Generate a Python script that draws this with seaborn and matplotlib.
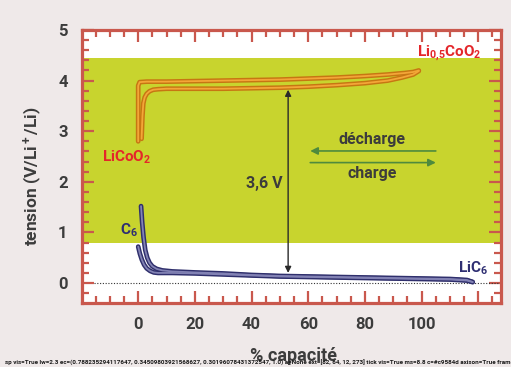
import matplotlib
matplotlib.use("Agg")
import matplotlib.pyplot as plt
import seaborn as sns
import numpy as np
from matplotlib.patches import Rectangle

# ---------------- data ----------------
# LiCoO2 electrode (upper curve = charge, lower = discharge)
orange_up_x = [0, 0, 0.5, 3, 10, 20, 30, 40, 50, 60, 70, 80, 88, 94, 97, 99]
orange_up_y = [2.8, 3.9, 3.97, 3.98, 3.98, 3.99, 4.0, 4.01, 4.02, 4.04, 4.06, 4.09, 4.12, 4.15, 4.17, 4.2]
orange_lo_x = [1.2, 1.5, 1.8, 2.3, 3, 4, 5.3, 7, 10, 20, 30, 40, 50, 60, 70, 80, 88, 93, 97, 99]
orange_lo_y = [2.85, 3.3, 3.55, 3.67, 3.74, 3.79, 3.82, 3.83, 3.84, 3.84, 3.84, 3.85, 3.86, 3.88, 3.91, 3.95, 4.0, 4.06, 4.12, 4.19]

# graphite electrode
blue_up_x = [1.0, 1.4, 1.9, 2.5, 3.2, 4, 5, 6.5, 8.5, 12, 20, 30, 40, 50, 60, 70, 80, 90, 100, 110, 116, 118]
blue_up_y = [1.52, 1.2, 0.9, 0.65, 0.5, 0.4, 0.33, 0.28, 0.25, 0.23, 0.21, 0.19, 0.16, 0.14, 0.13, 0.12, 0.11, 0.1, 0.09, 0.08, 0.06, 0.02]
blue_lo_x = [0, 0.6, 1.3, 2.1, 3, 4.2, 5.5, 7, 9, 12, 20, 30, 40, 50, 60, 70, 80, 90, 100, 110, 116, 118]
blue_lo_y = [0.72, 0.58, 0.46, 0.36, 0.29, 0.24, 0.21, 0.2, 0.2, 0.2, 0.19, 0.17, 0.15, 0.13, 0.12, 0.11, 0.1, 0.09, 0.08, 0.07, 0.05, 0.02]

x_ticks = [0, 20, 40, 60, 80, 100, 120]
x_labels = ["0", "20", "40", "60", "80", "100", ""]
y_ticks = [0, 1, 2, 3, 4, 5]
y_labels = ["0", "1", "2", "3", "4", "5"]

band_low, band_high = 0.8, 4.45
voltage_gap = [0.2, 3.82]   # ends of 3,6 V arrow
gap_x = 52.9

# ---------------- style ----------------
sns.set_theme(style="white")
plt.rcParams["font.family"] = ["Roboto", "DejaVu Sans"]
plt.rcParams["font.weight"] = "bold"
plt.rcParams["mathtext.fontset"] = "custom"
plt.rcParams["mathtext.rm"] = "Roboto:bold"
plt.rcParams["mathtext.it"] = "Roboto:bold"
plt.rcParams["mathtext.bf"] = "Roboto:bold"
plt.rcParams["mathtext.sf"] = "Roboto:bold"

FRAME = "#c9584d"
GREEN = "#c8d42e"
TXT = "#3c3c3c"
RED = "#e4262a"
NAVY = "#2e2e72"
OR_DARK, OR_LIGHT = "#c77612", "#f3a638"
NV_DARK, NV_LIGHT = "#2f2f6c", "#8282b4"
ARROW_GREEN = "#4f8a3d"

W, H = 511, 367
fig = plt.figure(figsize=(W / 100, H / 100), dpi=100, facecolor="#efe9e9")
ax = fig.add_axes([81.5 / W, 1 - 303.3 / H, (501 - 81.5) / W, (303.3 - 30) / H])
ax.set_facecolor("white")

ax.axhspan(band_low, band_high, color=GREEN, zorder=0, lw=0)
ax.axhline(0, xmin=0.03, xmax=1, color="#333333", lw=0.8, ls=(0, (1, 1.5)), zorder=1)

def dbl(x, y, dark, light):
    sns.lineplot(x=x, y=y, sort=False, estimator=None, color=dark, lw=3.4, ax=ax, zorder=3)
    sns.lineplot(x=x, y=y, sort=False, estimator=None, color=light, lw=1.3, ax=ax, zorder=4)

dbl(orange_up_x, orange_up_y, OR_DARK, OR_LIGHT)
dbl(orange_lo_x, orange_lo_y, OR_DARK, OR_LIGHT)
dbl(blue_lo_x, blue_lo_y, NV_DARK, NV_LIGHT)
dbl(blue_up_x, blue_up_y, NV_DARK, NV_LIGHT)

ax.annotate("", xy=(gap_x, voltage_gap[1]), xytext=(gap_x, voltage_gap[0]),
            arrowprops=dict(arrowstyle="<|-|>", color="#2a2a2a", lw=1.0,
                            mutation_scale=9, shrinkA=0, shrinkB=0), zorder=5)
ax.text(51.1, 1.96, "3,6 V", ha="right", va="center", fontsize=11.5, color=TXT, fontweight="bold")
ax.annotate("", xy=(60.7, 2.61), xytext=(105, 2.61),
            arrowprops=dict(arrowstyle="-|>", color=ARROW_GREEN, lw=1.2,
                            mutation_scale=11, shrinkA=0, shrinkB=0))
ax.annotate("", xy=(105, 2.38), xytext=(60.7, 2.38),
            arrowprops=dict(arrowstyle="-|>", color=ARROW_GREEN, lw=1.2,
                            mutation_scale=11, shrinkA=0, shrinkB=0))
ax.text(82.4, 2.84, "décharge", ha="center", va="center", fontsize=11.5, color=TXT, fontweight="bold")
ax.text(82.7, 2.17, "charge", ha="center", va="center", fontsize=11.5, color=TXT, fontweight="bold")
ax.text(-4.1, 2.49, r"LiCoO$_2$", ha="center", va="center", fontsize=11, color=RED, fontweight="bold")
ax.text(109.6, 4.55, r"Li$_{0{,}5}$CoO$_2$", ha="center", va="center", fontsize=11, color=RED, fontweight="bold")
ax.text(-3.4, 1.05, r"C$_6$", ha="center", va="center", fontsize=11, color=NAVY, fontweight="bold")
ax.text(118, 0.3, r"LiC$_6$", ha="center", va="center", fontsize=11, color=NAVY, fontweight="bold")

ax.set_xlim(-20, 128)
ax.set_ylim(-0.4, 5.0)
ax.set_xticks(x_ticks)
ax.set_xticklabels(x_labels)
ax.set_xticks(np.arange(-15, 128, 5), minor=True)
ax.set_yticks(y_ticks)
ax.set_yticklabels(y_labels)
ax.set_yticks(np.arange(-0.2, 5.0, 0.2), minor=True)
ax.tick_params(which="both", direction="in", bottom=True, left=True, top=True, right=True,
               color=FRAME, labelcolor=TXT, labelsize=12)
ax.tick_params(which="major", length=8.8, width=1.6, pad=10)
ax.tick_params(which="minor", length=5.2, width=1.6)
for lab in ax.get_xticklabels() + ax.get_yticklabels():
    lab.set_fontweight("bold")
for side in ["left", "right", "top", "bottom"]:
    sp = ax.spines[side]
    sp.set_visible(True)
    sp.set_edgecolor(FRAME)
    sp.set_linewidth(2.3)

ax.set_xlabel("% capacité", fontsize=13, color=TXT, fontweight="bold")
ax.set_ylabel(r"tension (V/Li$^+$/Li)", fontsize=12.5, color=TXT, fontweight="bold")
ax.xaxis.set_label_coords((293 - 81.5) / (501 - 81.5), -(356 - 303.3) / (303.3 - 30))
ax.yaxis.set_label_coords(-(81.5 - 33) / (501 - 81.5), (303.3 - 176) / (303.3 - 30))
ax.xaxis.label.set_va("center")
ax.yaxis.label.set_va("center")

fig.canvas.draw()
sp = ax.spines["left"]
t = ax.xaxis.get_major_ticks()[0]
info = (f"sp vis={sp.get_visible()} lw={sp.get_linewidth()} ec={sp.get_edgecolor()} a={sp.get_alpha()} "
        f"ext={[round(v) for v in sp.get_window_extent().bounds]} "
        f"tick vis={t.tick1line.get_visible()} ms={t.tick1line.get_markersize()} c={t.tick1line.get_color()} "
        f"axison={ax.axison} frameon={ax.get_frame_on()}")
fig.text(0.01, 0.005, info, fontsize=4.5, color="k")
fig.savefig("out.png", dpi=100, facecolor=fig.get_facecolor())
